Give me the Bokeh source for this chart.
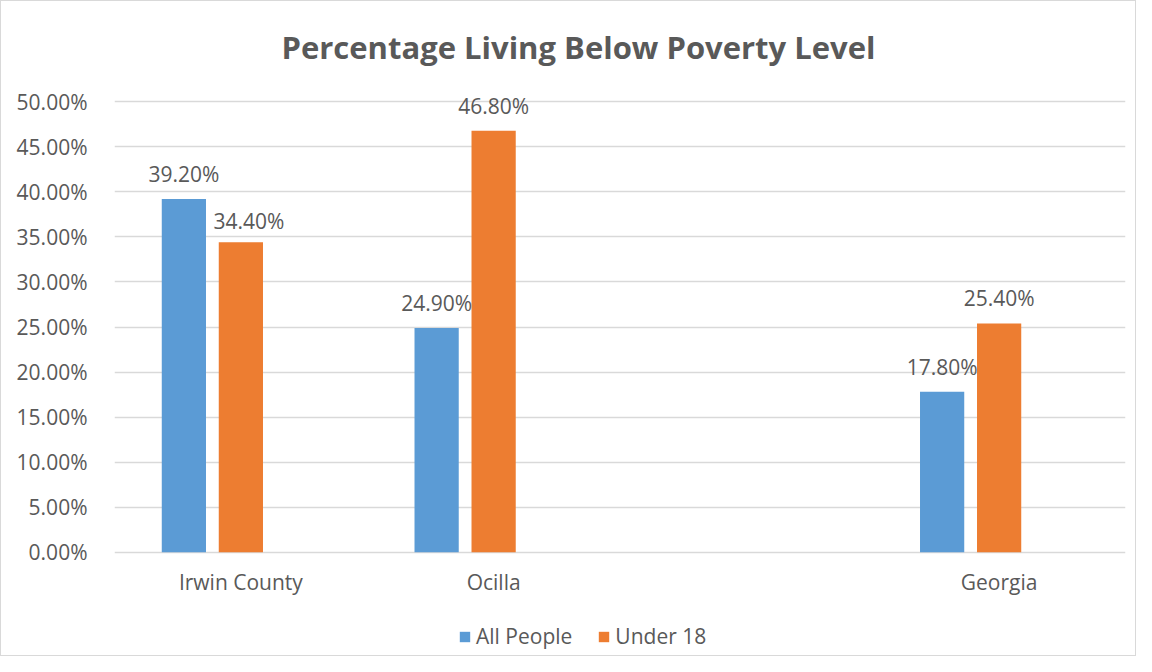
from bokeh.plotting import figure
from bokeh.models import Range1d, FixedTicker, ColumnDataSource, LabelSet, Label, Legend, LegendItem
from bokeh.core.properties import value
from bokeh.embed import file_html
from bokeh.resources import INLINE

# ---- data ----
categories = ["Irwin County", "Ocilla", "", "Georgia"]
all_people = [39.2, 24.9, None, 17.8]
under_18 = [34.4, 46.8, None, 25.4]
series_names = ["All People", "Under 18"]
series_colors = ["#5B9BD5", "#ED7D31"]
y_ticks = [0, 5, 10, 15, 20, 25, 30, 35, 40, 45, 50]
title_text = "Percentage Living Below Poverty Level"

# label nudges (pixels) where the original moved a data label aside: (series, category) -> (dx, dy)
label_nudges = {(1, 0): (8, -4)}

FONT = "Open Sans"
TXT = "#595959"
GRID = "#D9D9D9"
FS = "21px"

# layout (pixels, from the page's top-left)
W, H = 1136, 656
B_LEFT, B_RIGHT, B_TOP, B_BOTTOM = 113, 12, 5, 5
Y50_PX, Y0_PX = 100.3, 550.7          # where the 50% and 0% grid lines sit
frame_top, frame_bottom = B_TOP, H - B_BOTTOM
y_max_tick = y_ticks[-1]
ppu = (Y0_PX - Y50_PX) / y_max_tick    # pixels per percent
y_lo = -(frame_bottom - Y0_PX) / ppu
y_hi = y_max_tick + (Y50_PX - frame_top) / ppu

p = figure(width=W, height=H, output_backend="svg", toolbar_location=None,
           x_range=Range1d(-0.5, len(categories) - 0.5), y_range=Range1d(y_lo, y_hi),
           min_border_left=B_LEFT, min_border_right=B_RIGHT,
           min_border_top=B_TOP, min_border_bottom=B_BOTTOM)
p.outline_line_color = None
p.background_fill_color = "white"
p.border_fill_color = "white"
p.styles = {"border": "1px solid #D9D9D9", "box-sizing": "border-box"}

offsets = [-0.2255, 0.0]
bar_w = 0.175
LABEL_GAP = 25
renderers = []
for s, (vals, off, col) in enumerate(zip([all_people, under_18], offsets, series_colors)):
    xs, ys, labs, dxs, dys = [], [], [], [], []
    for i, v in enumerate(vals):
        if v is None:
            continue
        dx, dy = label_nudges.get((s, i), (0, 0))
        xs.append(i + off)
        ys.append(v)
        labs.append(f"{v:.2f}%")
        dxs.append(dx)
        dys.append(LABEL_GAP + dy)
    src = ColumnDataSource(dict(x=xs, top=ys, lab=labs, dx=dxs, dy=dys))
    r = p.vbar(x="x", top="top", width=bar_w, bottom=0, source=src,
               fill_color=col, line_color=None)
    renderers.append(r)
    ls = LabelSet(x="x", y="top", text="lab", source=src, x_offset="dx", y_offset="dy",
                  text_align="center", text_baseline="middle",
                  text_font=value(FONT), text_font_size=FS, text_color=TXT)
    p.add_layout(ls)

# y axis
p.yaxis.ticker = FixedTicker(ticks=y_ticks)
p.yaxis.major_label_overrides = {t: f"{t:.2f}%" for t in y_ticks}
p.yaxis.axis_line_color = None
p.yaxis.major_tick_line_color = None
p.yaxis.minor_tick_line_color = None
p.yaxis.major_label_standoff = 21
p.yaxis.major_label_text_font = FONT
p.yaxis.major_label_text_font_size = FS
p.yaxis.major_label_text_color = TXT

# category labels drawn under the 0 line
p.xaxis.visible = False
cat_idx = [i for i, c in enumerate(categories) if c]
cat_src = ColumnDataSource(dict(x=cat_idx, y=[0] * len(cat_idx), lab=[categories[i] for i in cat_idx]))
p.add_layout(LabelSet(x="x", y="y", text="lab", source=cat_src, y_offset=-30,
                      text_align="center", text_baseline="middle",
                      text_font=value(FONT), text_font_size=FS, text_color=TXT))

p.xgrid.grid_line_color = None
p.ygrid.ticker = FixedTicker(ticks=y_ticks)
p.ygrid.grid_line_color = GRID
p.ygrid.grid_line_width = 1.3

# title (screen units relative to the frame's bottom-left)
TITLE_CX, TITLE_CY = 577, 45
p.add_layout(Label(x=TITLE_CX - B_LEFT, y=frame_bottom - TITLE_CY, x_units="screen", y_units="screen",
                   text=title_text, text_align="center", text_baseline="middle",
                   text_font=FONT, text_font_size="31px", text_font_style="bold", text_color=TXT))

# legend
legend = Legend(items=[LegendItem(label=n, renderers=[r]) for n, r in zip(series_names, renderers)],
                location=(344, 2), orientation="horizontal",
                glyph_width=13, glyph_height=13, label_standoff=5, spacing=25,
                padding=0, margin=0, border_line_color=None, background_fill_alpha=0,
                label_text_font=FONT, label_text_font_size=FS, label_text_color=TXT)
p.add_layout(legend)

open("out.html", "w").write(file_html(p, INLINE))
